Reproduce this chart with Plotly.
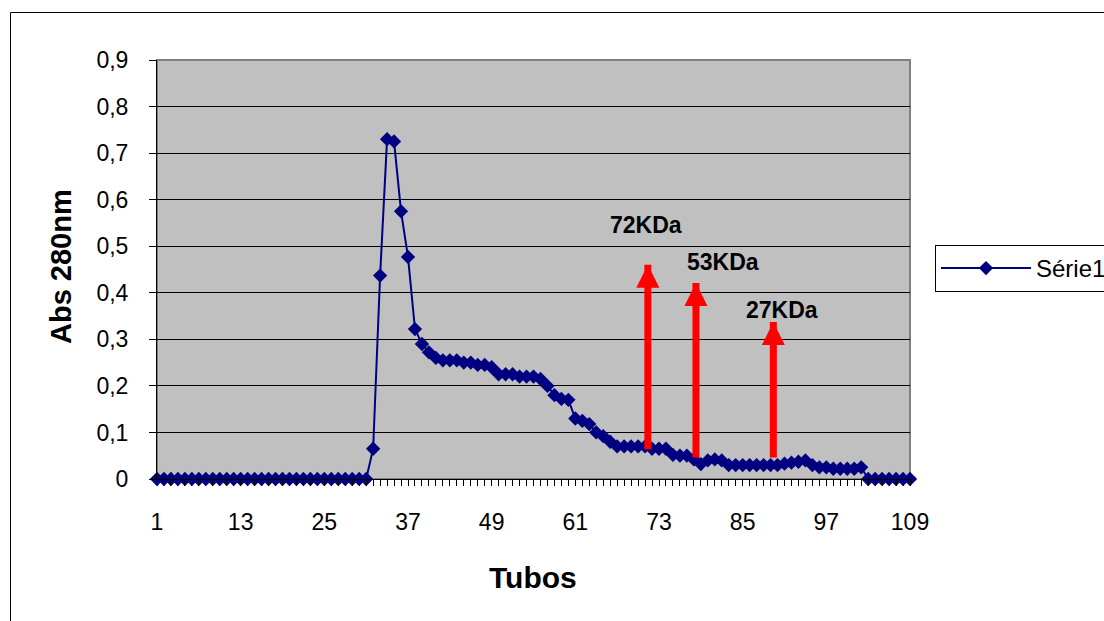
import plotly.graph_objects as go

tubos = list(range(1, 110))
abs280 = [0.0] * 31 + [
    0.065, 0.437, 0.73, 0.725, 0.575, 0.477, 0.322, 0.29, 0.272, 0.26,
    0.255, 0.255, 0.255, 0.25, 0.25, 0.245, 0.245, 0.24, 0.225, 0.225,
    0.225, 0.22, 0.22, 0.22, 0.215, 0.2, 0.18, 0.172, 0.17, 0.13,
    0.125, 0.118, 0.1, 0.092, 0.08, 0.07, 0.07, 0.07, 0.07, 0.07,
    0.065, 0.065, 0.065, 0.052, 0.05, 0.05, 0.042, 0.032, 0.04, 0.042,
    0.04, 0.03, 0.03, 0.03, 0.03, 0.03, 0.03, 0.03, 0.03, 0.033,
    0.035, 0.037, 0.04, 0.03, 0.025, 0.025, 0.022, 0.022, 0.022, 0.022,
    0.025,
] + [0.0] * 7

x_tick_labels = [1, 13, 25, 37, 49, 61, 73, 85, 97, 109]
y_tick_vals = [0, 0.1, 0.2, 0.3, 0.4, 0.5, 0.6, 0.7, 0.8, 0.9]
y_tick_text = ["0", "0,1", "0,2", "0,3", "0,4", "0,5", "0,6", "0,7", "0,8", "0,9"]

# marker arrows (molecular weight standards)
arrow_x = [71.4, 78.3, 89.4]
arrow_tip = [0.46, 0.421, 0.337]
arrow_base = [0.064, 0.046, 0.046]
label_text = ["72KDa", "53KDa", "27KDa"]
label_x = [71.2, 82.2, 90.7]
label_y = [0.546, 0.466, 0.363]

FONT = "Arial, Liberation Sans, sans-serif"
NAVY = "#000080"
RED = "#FF0000"

fig = go.Figure()
fig.add_trace(go.Scatter(
    x=tubos, y=abs280, mode="lines+markers", name="Série1",
    line=dict(color=NAVY, width=2),
    marker=dict(symbol="diamond", size=11, color=NAVY),
    cliponaxis=False,
))

shapes = [
    # chart area border
    dict(type="rect", xref="paper", yref="paper",
         x0=(10.5 - 157) / 753, x1=(1120 - 157) / 753,
         y0=(479 - 640) / 419, y1=(479 - 12.5) / 419,
         line=dict(color="black", width=1), fillcolor="rgba(0,0,0,0)", layer="below"),
    # plot area border
    dict(type="rect", xref="paper", yref="paper", x0=0, x1=1, y0=0, y1=1,
         line=dict(color="#808080", width=2), fillcolor="rgba(0,0,0,0)", layer="below"),
]
for xa, yt, yb in zip(arrow_x, arrow_tip, arrow_base):
    # shaft
    shapes.append(dict(
        type="rect", xref="x", yref="y", xsizemode="pixel", xanchor=xa,
        x0=-3.5, x1=3.5, y0=yb, y1=yt, line=dict(width=0), fillcolor=RED,
        layer="above",
    ))
    # head
    shapes.append(dict(
        type="path", xref="x", yref="y", xsizemode="pixel", ysizemode="pixel",
        xanchor=xa, yanchor=yt, path="M-11.5,-23 L11.5,-23 L0,0 Z",
        line=dict(width=0), fillcolor=RED, layer="above",
    ))

annotations = []
for t, lx, ly in zip(label_text, label_x, label_y):
    annotations.append(dict(
        x=lx, y=ly, xref="x", yref="y", text="<b>%s</b>" % t, showarrow=False,
        font=dict(family=FONT, size=23, color="black"),
    ))
annotations.append(dict(
    x=(61 - 157) / 753, y=(479 - 267) / 419, xref="paper", yref="paper",
    xanchor="center", yanchor="middle",
    text="<b>Abs 280nm</b>", textangle=-90, showarrow=False,
    font=dict(family=FONT, size=29, color="black"),
))
annotations.append(dict(
    x=(533 - 157) / 753, y=(479 - 577) / 419, xref="paper", yref="paper",
    xanchor="center", yanchor="middle",
    text="<b>Tubos</b>", showarrow=False,
    font=dict(family=FONT, size=30, color="black"),
))

fig.update_layout(
    width=1104, height=621,
    margin=dict(l=157, r=194, t=60, b=142, autoexpand=False),
    paper_bgcolor="white", plot_bgcolor="#C0C0C0",
    font=dict(family=FONT, size=23, color="black"),
    showlegend=True,
    legend=dict(
        x=(935 - 157) / 753, y=(479 - 245) / 419, xanchor="left", yanchor="top",
        bordercolor="black", borderwidth=1, bgcolor="white",
        itemwidth=90,
        font=dict(family=FONT, size=24, color="black"),
    ),
    annotations=annotations,
    shapes=shapes,
)
fig.update_xaxes(
    range=[1, 109], tickmode="array", tickvals=tubos,
    ticktext=[str(t) if t in x_tick_labels else "" for t in tubos],
    ticks="outside", ticklen=6, tickcolor="black", tickwidth=1,
    showline=True, linecolor="black", linewidth=1,
    showgrid=False, zeroline=False, ticklabelstandoff=16,
    tickfont=dict(family=FONT, size=23, color="black"),
)
fig.update_yaxes(
    range=[0, 0.9], tickmode="array", tickvals=y_tick_vals, ticktext=y_tick_text,
    ticks="outside", ticklen=7, tickcolor="black", tickwidth=1,
    showline=True, linecolor="black", linewidth=1,
    showgrid=True, gridcolor="black", gridwidth=1, zeroline=False,
    ticklabelstandoff=16,
    tickfont=dict(family=FONT, size=23, color="black"),
)

fig.write_html("out.html")
